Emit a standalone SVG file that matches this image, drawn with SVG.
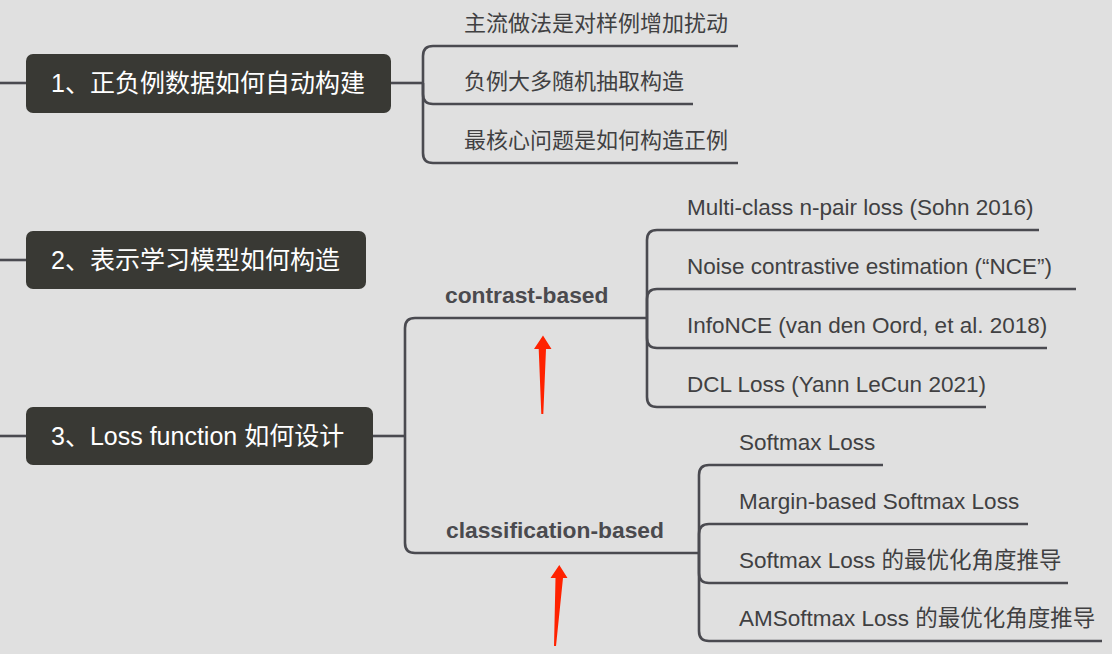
<svg xmlns="http://www.w3.org/2000/svg" width="1112" height="654" viewBox="0 0 1112 654">
<style>
.bg{fill:#e0e0e0}
.node rect{fill:#393934}
.node text{fill:#ffffff;font-family:"Liberation Sans","Noto Sans CJK SC",sans-serif;font-size:25px}
.conn path{fill:none;stroke:#4a4a50;stroke-width:2.6}
.leaf{fill:#404042;font-family:"Liberation Sans","Noto Sans CJK SC",sans-serif;font-size:22.5px}
.cjk{font-size:22px}
.lbl{fill:#4a4a4e;font-family:"Liberation Sans","Noto Sans CJK SC",sans-serif;font-size:22.8px;font-weight:bold}
.arrow{fill:#ff2200}
</style>
<rect class="bg" x="0" y="0" width="1112" height="654"/>
<g id="connectors" class="conn">
<path d="M0,83 H26"/>
<path d="M391,83 H423"/>
<path d="M423,83 V56 Q423,46 433,46 H738"/>
<path d="M423,83 V94 Q423,104 433,104 H693"/>
<path d="M423,83 V153 Q423,163 433,163 H738"/>
<path d="M0,260 H26"/>
<path d="M0,436 H26"/>
<path d="M373,436 H405"/>
<path d="M405,436 V328 Q405,318 415,318 H647"/>
<path d="M405,436 V543 Q405,553 415,553 H699"/>
<path d="M647,318 V240 Q647,230 657,230 H1039"/>
<path d="M647,318 V299 Q647,289 657,289 H1076"/>
<path d="M647,318 V338 Q647,348 657,348 H1047"/>
<path d="M647,318 V397 Q647,407 657,407 H986"/>
<path d="M699,553 V475 Q699,465 709,465 H883"/>
<path d="M699,553 V534 Q699,524 709,524 H1028"/>
<path d="M699,553 V573 Q699,583 709,583 H1068"/>
<path d="M699,553 V631 Q699,641 709,641 H1102"/>
</g>
<g id="node1" class="node">
<rect x="26" y="54" width="365" height="59" rx="7"/>
<text x="51" y="92">1、正负例数据如何自动构建</text>
</g>
<g id="node2" class="node">
<rect x="26" y="231" width="340" height="58" rx="7"/>
<text x="51" y="269">2、表示学习模型如何构造</text>
</g>
<g id="node3" class="node">
<rect x="26" y="407" width="347" height="58" rx="7"/>
<text x="51" y="445">3、Loss function 如何设计</text>
</g>
<g id="n1c1"><text class="leaf cjk" x="464" y="31">主流做法是对样例增加扰动</text></g>
<g id="n1c2"><text class="leaf cjk" x="464" y="89">负例大多随机抽取构造</text></g>
<g id="n1c3"><text class="leaf cjk" x="464" y="148">最核心问题是如何构造正例</text></g>
<g id="contrast"><text class="lbl" x="445" y="303">contrast-based</text></g>
<g id="classification"><text class="lbl" x="446" y="538">classification-based</text></g>
<g id="c1"><text class="leaf" x="687" y="215">Multi-class n-pair loss (Sohn 2016)</text></g>
<g id="c2"><text class="leaf" x="687" y="274">Noise contrastive estimation (“NCE”)</text></g>
<g id="c3"><text class="leaf" x="687" y="333">InfoNCE (van den Oord, et al. 2018)</text></g>
<g id="c4"><text class="leaf" x="687" y="392">DCL Loss (Yann LeCun 2021)</text></g>
<g id="s1"><text class="leaf" x="739" y="450">Softmax Loss</text></g>
<g id="s2"><text class="leaf" x="739" y="509">Margin-based Softmax Loss</text></g>
<g id="s3"><text class="leaf" x="739" y="568">Softmax Loss 的最优化角度推导</text></g>
<g id="s4"><text class="leaf" x="739" y="626">AMSoftmax Loss 的最优化角度推导</text></g>
<polygon class="arrow" points="543,335.5 551.5,349 546,349 543.3,414 541.3,414 538.7,349 534,349"/>
<polygon class="arrow" points="559.3,565 567.5,578 563,578 556,646 554,646 555.5,578 550.5,578"/>
</svg>
